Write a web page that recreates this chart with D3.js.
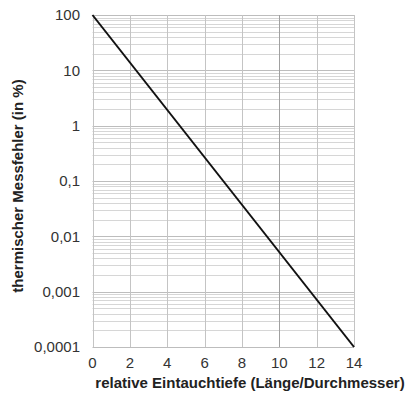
<!DOCTYPE html>
<html>
<head>
<meta charset="utf-8">
<script src="https://cdn.jsdelivr.net/npm/d3@7"></script>
<style>
  body { margin: 0; background: #fff; }
  text { font-family: "Liberation Sans", Arial, sans-serif; }
</style>
</head>
<body>
<svg id="chart"></svg>
<script>
// data
const depth = [0, 14]            // relative Eintauchtiefe
const error = [100, 0.0001]      // thermischer Messfehler in %
const xTicks = [0, 2, 4, 6, 8, 10, 12, 14]
const yTicks = [100, 10, 1, 0.1, 0.01, 0.001, 0.0001]
const yTickLabels = ['100', '10', '1', '0,1', '0,01', '0,001', '0,0001']

const width = 407, height = 395
const margin = { top: 15, right: 53, bottom: 48, left: 92.5 }

const svg = d3.select('#chart')
    .attr('width', width)
    .attr('height', height)

const x = d3.scaleLinear()
    .domain([0, 14])
    .range([margin.left, width - margin.right])

const y = d3.scaleLog()
    .domain([0.0001, 100])
    .range([height - margin.bottom, margin.top])

// minor grid lines 1..9 per decade
var minor = []
for (let e = -4; e < 2; e++) {
    for (let m = 2; m <= 9; m++) minor.push(m * Math.pow(10, e))
}

const grid = svg.append('g').attr('class', 'grid')

grid.selectAll('.hminor')
    .data(minor)
    .enter().append('line')
    .attr('x1', x(0)).attr('x2', x(14))
    .attr('y1', d => Math.round(y(d)) + 0.5)
    .attr('y2', d => Math.round(y(d)) + 0.5)
    .attr('stroke', '#d6d6d6')
    .attr('stroke-width', 1)

grid.selectAll('.hmajor')
    .data(yTicks)
    .enter().append('line')
    .attr('x1', x(0)).attr('x2', x(14))
    .attr('y1', d => Math.round(y(d)) + 0.5)
    .attr('y2', d => Math.round(y(d)) + 0.5)
    .attr('stroke', '#bdbdbd')
    .attr('stroke-width', 1)

grid.selectAll('.vline')
    .data(xTicks)
    .enter().append('line')
    .attr('x1', d => Math.round(x(d)) + 0.5)
    .attr('x2', d => Math.round(x(d)) + 0.5)
    .attr('y1', y(100)).attr('y2', y(0.0001))
    .attr('stroke', d => d == 10 ? '#a0a0a0' : '#c4c4c4')
    .attr('stroke-width', 1)

// the curve
const line = d3.line()
    .x((d, i) => x(depth[i]))
    .y(d => y(d))

svg.append('path')
    .datum(error)
    .attr('d', line)
    .attr('fill', 'none')
    .attr('stroke', '#111')
    .attr('stroke-width', 2)

// tick labels
svg.append('g').selectAll('text')
    .data(yTicks)
    .enter().append('text')
    .attr('x', 80)
    .attr('y', d => y(d))
    .attr('dy', '0.35em')
    .attr('text-anchor', 'end')
    .attr('font-size', 15)
    .attr('fill', '#333')
    .text((d, i) => yTickLabels[i])

svg.append('g').selectAll('text')
    .data(xTicks)
    .enter().append('text')
    .attr('x', d => x(d))
    .attr('y', 368)
    .attr('text-anchor', 'middle')
    .attr('font-size', 15)
    .attr('fill', '#333')
    .text(d => d)

// axis titles
svg.append('text')
    .attr('x', 250)
    .attr('y', 388)
    .attr('text-anchor', 'middle')
    .attr('font-size', 15)
    .attr('font-weight', 'bold')
    .attr('fill', '#222')
    .text('relative Eintauchtiefe (Länge/Durchmesser)')

svg.append('text')
    .attr('transform', 'translate(23,' + ((y(100) + y(0.0001)) / 2 + 5) + ') rotate(-90)')
    .attr('text-anchor', 'middle')
    .attr('font-size', 15)
    .attr('font-weight', 'bold')
    .attr('fill', '#222')
    .text('thermischer Messfehler (in %)')
</script>
</body>
</html>
